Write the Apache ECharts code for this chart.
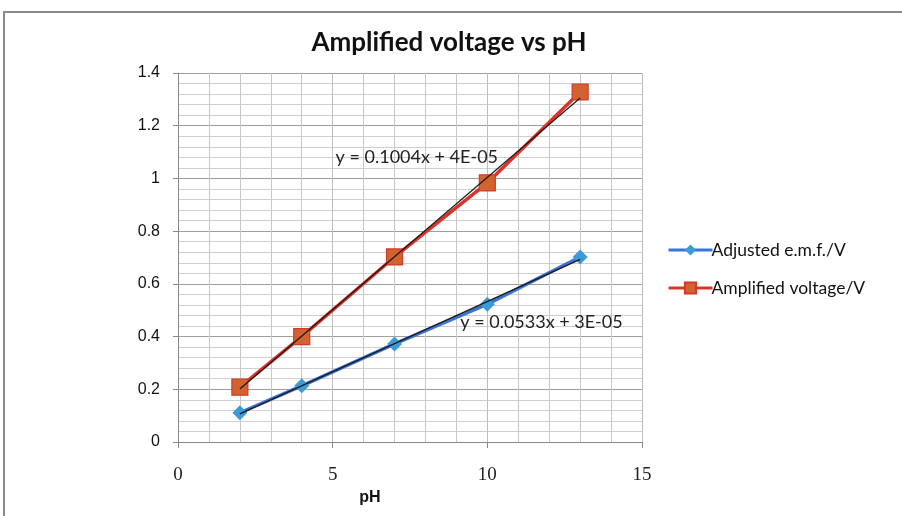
<!DOCTYPE html>
<html><head><meta charset="utf-8">
<script src="https://cdn.jsdelivr.net/npm/echarts@6/dist/echarts.min.js"></script>
<style>html,body{margin:0;padding:0;background:#fff}#c{width:902px;height:516px}</style>
</head><body><div id="c"></div>
<script>
const phValues = [2, 4, 7, 10, 13];
const emfValues = [0.111, 0.213, 0.372, 0.523, 0.702];
const ampValues = [0.208, 0.400, 0.702, 0.983, 1.328];
const emfTrendX = [2, 13];
const emfTrendY = [0.1066, 0.6929];
const ampTrendX = [2, 13];
const ampTrendY = [0.2008, 1.3052];
const emfEquation = 'y = 0.0533x + 3E-05';
const ampEquation = 'y = 0.1004x + 4E-05';
const seriesNames = ['Adjusted e.m.f./V', 'Amplified voltage/V'];

const chart = echarts.init(document.getElementById('c'), null, {renderer: 'canvas'});
const pairs = (xs, ys) => xs.map((x, i) => [x, ys[i]]);
chart.setOption({
  animation: false,
  backgroundColor: '#fff',
  title: {
    text: 'Amplified voltage vs pH', left: 444, top: 25, textAlign: 'center',
    textStyle: {fontFamily: 'Lato', fontWeight: 'bold', fontSize: 26, color: '#111'}
  },
  grid: {left: 178, right: 260, top: 73, bottom: 74},
  legend: {
    orient: 'vertical', left: 662, top: 236, itemGap: 20, itemWidth: 44, itemHeight: 14,
    data: seriesNames,
    lineStyle: {width: 3},
    textStyle: {fontFamily: 'Lato', fontSize: 17.5, color: '#111', padding: [0, 0, 0, -6]}
  },
  xAxis: {
    type: 'value', min: 0, max: 15, interval: 5,
    name: 'pH', nameLocation: 'middle', nameGap: 46,
    nameTextStyle: {fontFamily: 'Liberation Sans', fontWeight: 'bold', fontSize: 16, color: '#111', padding: [0, 80, 0, 0]},
    axisLine: {show: true, onZero: false, lineStyle: {color: '#888', width: 1}},
    axisTick: {show: true, length: 6, lineStyle: {color: '#888'}},
    minorTick: {show: false},
    axisLabel: {fontFamily: 'Liberation Serif', fontSize: 19, color: '#222', margin: 24},
    splitLine: {show: true, lineStyle: {color: '#bdbdbd', width: 1}},
    minorSplitLine: {show: true, lineStyle: {color: '#c8c8c8', width: 1}},
    splitNumber: 3
  },
  yAxis: {
    type: 'value', min: 0, max: 1.4, interval: 0.2,
    axisLine: {show: true, lineStyle: {color: '#888', width: 1}},
    axisTick: {show: true, length: 5, lineStyle: {color: '#888'}},
    axisLabel: {fontFamily: 'Liberation Sans', fontSize: 16, color: '#111', margin: 18,
      formatter: v => String(Math.round(v * 10) / 10)},
    splitLine: {show: true, lineStyle: {color: '#9e9e9e', width: 1}},
    minorSplitLine: {show: true, lineStyle: {color: '#cfcfcf', width: 1}}
  },
  series: [
    {
      name: seriesNames[0], type: 'line', data: pairs(phValues, emfValues),
      symbol: 'diamond', symbolSize: 15,
      lineStyle: {color: '#3d74d4', width: 3.5},
      itemStyle: {color: '#3d9ad8', borderColor: '#3d9ad8', borderWidth: 0}, z: 3
    },
    {
      name: seriesNames[1], type: 'line', data: pairs(phValues, ampValues),
      symbol: 'rect', symbolSize: 16,
      lineStyle: {color: '#d9342b', width: 3.5},
      itemStyle: {color: '#d2622f', borderColor: '#d23a2b', borderWidth: 1.2}, z: 3
    },
    {
      name: 'emfTrend', type: 'line', data: pairs(emfTrendX, emfTrendY),
      symbol: 'none', lineStyle: {color: '#1a1a1a', width: 1.2}, z: 4, silent: true,
      markPoint: {
        symbol: 'rect', symbolSize: 0,
        label: {show: true, formatter: emfEquation, fontFamily: 'Lato', fontSize: 18, color: '#222', position: 'inside'},
        data: [{coord: [11.75, 0.455]}]
      }
    },
    {
      name: 'ampTrend', type: 'line', data: pairs(ampTrendX, ampTrendY),
      symbol: 'none', lineStyle: {color: '#1a1a1a', width: 1.2}, z: 4, silent: true,
      markPoint: {
        symbol: 'rect', symbolSize: 0,
        label: {show: true, formatter: ampEquation, fontFamily: 'Lato', fontSize: 18, color: '#222', position: 'inside'},
        data: [{coord: [7.72, 1.08]}]
      }
    }
  ],
  graphic: [
    {type: 'rect', shape: {x: 4, y: 12, width: 920, height: 540},
     style: {fill: 'none', stroke: '#8a8a8a', lineWidth: 2}, z: 100, silent: true}
  ]
});
</script></body></html>
